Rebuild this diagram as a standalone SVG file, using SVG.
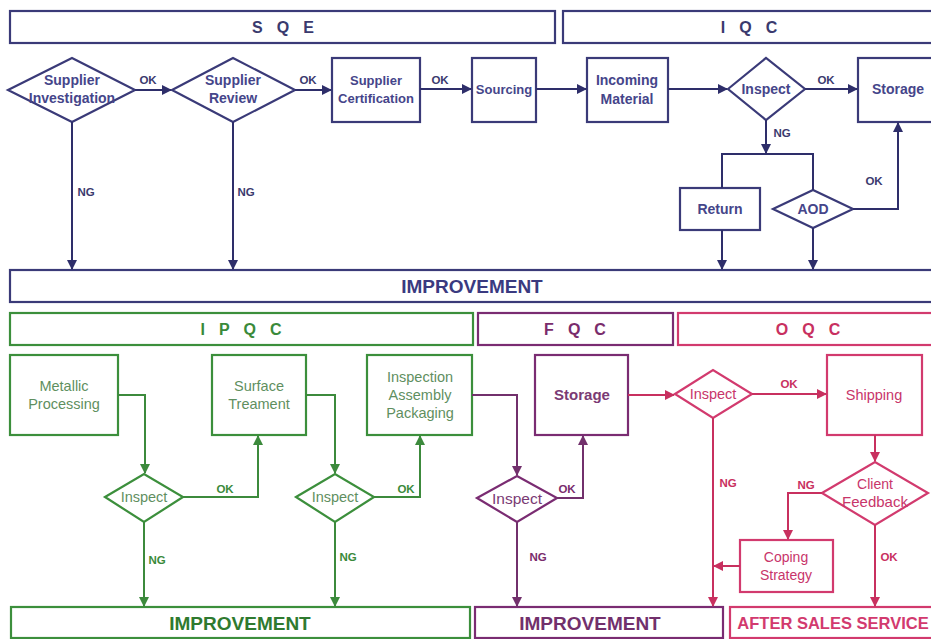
<svg xmlns="http://www.w3.org/2000/svg" width="931" height="639" viewBox="0 0 931 639">
<defs>
<style>
text{font-family:"Liberation Sans",Arial,sans-serif;text-anchor:middle;}
.bb{fill:#fff;stroke:#3a3a78;stroke-width:2.2}
.gg{fill:#fff;stroke:#3c8f3c;stroke-width:2.2}
.pp{fill:#fff;stroke:#7a2c72;stroke-width:2.2}
.kk{fill:#fff;stroke:#d23a6e;stroke-width:2.2}
.bt{fill:#45458a;font-size:14px;font-weight:bold}
.gt{fill:#5f8f5f;font-size:14.5px}
.pt{fill:#7a3a74;font-size:15px;font-weight:bold}
.kt{fill:#c8356a;font-size:14px}
.hb{fill:#3a3a6e;font-size:16px;font-weight:bold;letter-spacing:14px}
.hg{fill:#3a8a3a;font-size:16px;font-weight:bold;letter-spacing:14px}
.hp{fill:#7a2c6c;font-size:16px;font-weight:bold;letter-spacing:14px}
.hk{fill:#c83060;font-size:16px;font-weight:bold;letter-spacing:14px}
.im{font-size:19px;font-weight:bold}
.lb{fill:#3a3a6e;font-size:11.5px;font-weight:bold}
.lg{fill:#3a8a3a;font-size:11.5px;font-weight:bold}
.lp{fill:#7a2c6c;font-size:11.5px;font-weight:bold}
.lk{fill:#c83060;font-size:11.5px;font-weight:bold}
.cb{fill:none;stroke:#2e2e6a;stroke-width:2}
.cg{fill:none;stroke:#3c8a3c;stroke-width:2}
.cp{fill:none;stroke:#72306c;stroke-width:2}
.ck{fill:none;stroke:#c8305f;stroke-width:2}
</style>
<marker id="ab" viewBox="0 0 10 10" refX="9" refY="5" markerWidth="5" markerHeight="5" orient="auto" markerUnits="strokeWidth"><path d="M0,0 L10,5 L0,10 z" fill="#2e2e6a"/></marker>
<marker id="ag" viewBox="0 0 10 10" refX="9" refY="5" markerWidth="5" markerHeight="5" orient="auto" markerUnits="strokeWidth"><path d="M0,0 L10,5 L0,10 z" fill="#3c8a3c"/></marker>
<marker id="ap" viewBox="0 0 10 10" refX="9" refY="5" markerWidth="5" markerHeight="5" orient="auto" markerUnits="strokeWidth"><path d="M0,0 L10,5 L0,10 z" fill="#72306c"/></marker>
<marker id="ak" viewBox="0 0 10 10" refX="9" refY="5" markerWidth="5" markerHeight="5" orient="auto" markerUnits="strokeWidth"><path d="M0,0 L10,5 L0,10 z" fill="#c8305f"/></marker>
</defs>
<rect width="931" height="639" fill="#fff"/>

<!-- headers -->
<g id="hdr-sqe"><rect class="bb" x="10" y="11" width="545" height="32"/><text class="hb" x="290" y="33">SQE</text></g>
<g id="hdr-iqc"><rect class="bb" x="563" y="11" width="372" height="32"/><text class="hb" x="756" y="33">IQC</text></g>
<g id="hdr-improve1"><rect class="bb" x="10" y="270" width="925" height="32"/><text class="im" style="fill:#3a3a80" x="472" y="293">IMPROVEMENT</text></g>
<g id="hdr-ipqc"><rect class="gg" x="10" y="313" width="463" height="32"/><text class="hg" x="248" y="335">IPQC</text></g>
<g id="hdr-fqc"><rect class="pp" x="478" y="313" width="195" height="32"/><text class="hp" x="582" y="335">FQC</text></g>
<g id="hdr-oqc"><rect class="kk" x="678" y="313" width="258" height="32"/><text class="hk" x="815" y="335">OQC</text></g>
<g id="bar-improve-g"><rect class="gg" x="11" y="607" width="459" height="31"/><text class="im" style="fill:#2f7a2f" x="240" y="630">IMPROVEMENT</text></g>
<g id="bar-improve-p"><rect class="pp" x="475" y="607" width="248" height="31"/><text class="im" style="fill:#72306c" x="590" y="630">IMPROVEMENT</text></g>
<g id="bar-after"><rect class="kk" x="730" y="607" width="206" height="31"/><text style="fill:#d23a6e;font-size:16.5px;font-weight:bold" x="833" y="629">AFTER SALES SERVICE</text></g>

<!-- SQE / IQC nodes -->
<g id="n-investigation"><polygon class="bb" points="8,90 72,58 135,90 72,122"/><text class="bt" x="72" y="85">Supplier</text><text class="bt" x="72" y="103">Investigation</text></g>
<g id="n-review"><polygon class="bb" points="172,90 233,58 295,90 233,122"/><text class="bt" x="233" y="85">Supplier</text><text class="bt" x="233" y="103">Review</text></g>
<g id="n-certification"><rect class="bb" x="332" y="58" width="88" height="64"/><text class="bt" style="font-size:13px" x="376" y="85">Supplier</text><text class="bt" style="font-size:13px" x="376" y="103">Certification</text></g>
<g id="n-sourcing"><rect class="bb" x="472" y="58" width="64" height="64"/><text class="bt" style="font-size:13px" x="504" y="94">Sourcing</text></g>
<g id="n-incoming"><rect class="bb" x="587" y="58" width="81" height="64"/><text class="bt" x="627" y="85">Incoming</text><text class="bt" x="627" y="104">Material</text></g>
<g id="n-inspect-iqc"><polygon class="bb" points="728,89 766,58 805,89 766,120"/><text class="bt" x="766" y="94">Inspect</text></g>
<g id="n-storage-iqc"><rect class="bb" x="858" y="58" width="78" height="64"/><text class="bt" x="898" y="94">Storage</text></g>
<g id="n-return"><rect class="bb" x="680" y="188" width="80" height="42"/><text class="bt" x="720" y="214">Return</text></g>
<g id="n-aod"><polygon class="bb" points="773,209 813,190 853,209 813,228"/><text class="bt" x="813" y="214">AOD</text></g>

<!-- IPQC nodes -->
<g id="n-metallic"><rect class="gg" x="10" y="355" width="108" height="80"/><text class="gt" x="64" y="391">Metallic</text><text class="gt" x="64" y="409">Processing</text></g>
<g id="n-surface"><rect class="gg" x="212" y="355" width="94" height="80"/><text class="gt" x="259" y="391">Surface</text><text class="gt" x="259" y="409">Treament</text></g>
<g id="n-iap"><rect class="gg" x="367" y="355" width="105" height="80"/><text class="gt" x="420" y="382">Inspection</text><text class="gt" x="420" y="400">Assembly</text><text class="gt" x="420" y="418">Packaging</text></g>
<g id="n-inspect-g1"><polygon class="gg" points="105,497 144,474 183,497 144,522"/><text class="gt" x="144" y="502">Inspect</text></g>
<g id="n-inspect-g2"><polygon class="gg" points="296,497 335,474 374,497 335,522"/><text class="gt" x="335" y="502">Inspect</text></g>

<!-- FQC nodes -->
<g id="n-storage-fqc"><rect class="pp" x="535" y="355" width="93" height="80"/><text class="pt" x="582" y="400">Storage</text></g>
<g id="n-inspect-fqc"><polygon class="pp" points="477,498 517,476 557,498 517,522"/><text class="pt" style="font-weight:normal;font-size:15.5px" x="517" y="504">Inspect</text></g>

<!-- OQC nodes -->
<g id="n-inspect-oqc"><polygon class="kk" points="675,394 713,370 752,394 713,418"/><text class="kt" style="font-size:14.5px" x="713" y="399">Inspect</text></g>
<g id="n-shipping"><rect class="kk" x="827" y="355" width="95" height="80"/><text class="kt" style="font-size:14.5px" x="874" y="400">Shipping</text></g>
<g id="n-feedback"><polygon class="kk" points="822,493 875,462 928,493 875,525"/><text class="kt" x="875" y="489">Client</text><text class="kt" style="font-size:15px" x="875" y="507">Feedback</text></g>
<g id="n-coping"><rect class="kk" x="740" y="540" width="93" height="52"/><text class="kt" x="786" y="562">Coping</text><text class="kt" x="786" y="580">Strategy</text></g>

<!-- connectors -->
<g id="connectors">
<path class="cb" marker-end="url(#ab)" d="M135,90 H171"/>
<path class="cb" marker-end="url(#ab)" d="M295,90 H331"/>
<path class="cb" marker-end="url(#ab)" d="M420,89 H471"/>
<path class="cb" marker-end="url(#ab)" d="M536,89 H586"/>
<path class="cb" marker-end="url(#ab)" d="M668,89 H727"/>
<path class="cb" marker-end="url(#ab)" d="M805,89 H857"/>
<path class="cb" marker-end="url(#ab)" d="M766,120 V153"/>
<path class="cb" d="M722,188 V154 H813 V190"/>
<path class="cb" marker-end="url(#ab)" d="M853,209 H898 V123"/>
<path class="cb" marker-end="url(#ab)" d="M722,230 V269"/>
<path class="cb" marker-end="url(#ab)" d="M813,228 V269"/>
<path class="cb" marker-end="url(#ab)" d="M72,122 V269"/>
<path class="cb" marker-end="url(#ab)" d="M233,122 V269"/>

<path class="cg" marker-end="url(#ag)" d="M118,395 H145 V473"/>
<path class="cg" marker-end="url(#ag)" d="M183,497 H258 V436"/>
<path class="cg" marker-end="url(#ag)" d="M306,395 H335 V473"/>
<path class="cg" marker-end="url(#ag)" d="M374,497 H420 V436"/>
<path class="cg" marker-end="url(#ag)" d="M144,522 V606"/>
<path class="cg" marker-end="url(#ag)" d="M335,522 V606"/>

<path class="cp" marker-end="url(#ap)" d="M472,395 H517 V475"/>
<path class="cp" marker-end="url(#ap)" d="M557,498 H583 V436"/>
<path class="cp" marker-end="url(#ap)" d="M517,522 V606"/>

<path class="ck" marker-end="url(#ak)" d="M628,395 H674"/>
<path class="ck" marker-end="url(#ak)" d="M752,394 H826"/>
<path class="ck" marker-end="url(#ak)" d="M713,418 V606"/>
<path class="ck" marker-end="url(#ak)" d="M875,435 V461"/>
<path class="ck" marker-end="url(#ak)" d="M822,493 H788 V539"/>
<path class="ck" marker-end="url(#ak)" d="M740,566 H714"/>
<path class="ck" marker-end="url(#ak)" d="M875,525 V606"/>

<text class="lb" x="148" y="84">OK</text>
<text class="lb" x="308" y="84">OK</text>
<text class="lb" x="440" y="84">OK</text>
<text class="lb" x="826" y="84">OK</text>
<text class="lb" x="782" y="137">NG</text>
<text class="lb" x="874" y="185">OK</text>
<text class="lb" x="86" y="196">NG</text>
<text class="lb" x="246" y="196">NG</text>
<text class="lg" x="225" y="493">OK</text>
<text class="lg" x="406" y="493">OK</text>
<text class="lg" x="157" y="564">NG</text>
<text class="lg" x="348" y="561">NG</text>
<text class="lp" x="567" y="493">OK</text>
<text class="lp" x="538" y="561">NG</text>
<text class="lk" x="789" y="388">OK</text>
<text class="lk" x="728" y="487">NG</text>
<text class="lk" x="806" y="489">NG</text>
<text class="lk" x="889" y="561">OK</text>
</g>
</svg>
